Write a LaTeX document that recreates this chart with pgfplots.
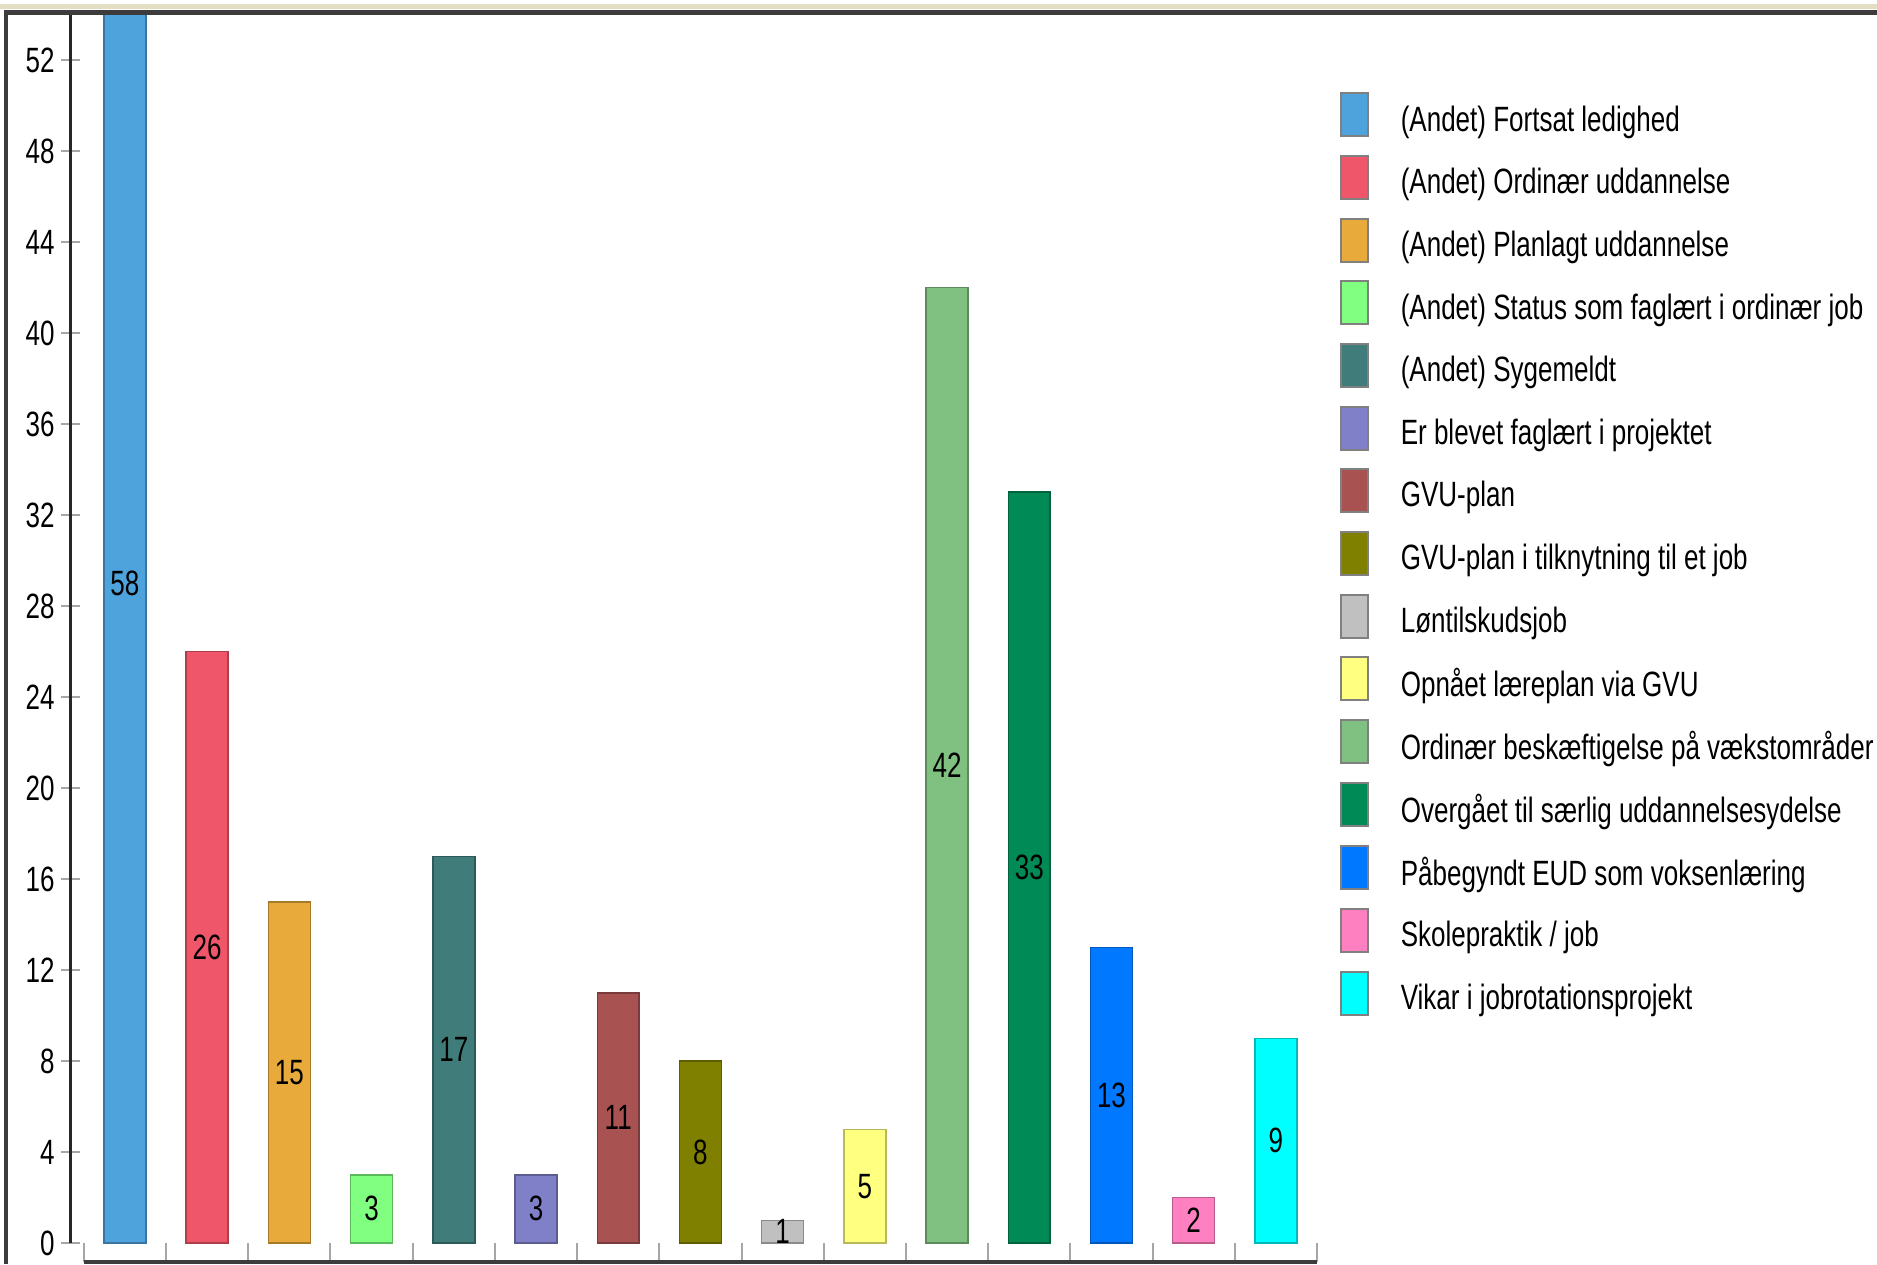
\documentclass[border=0pt]{standalone}
\usepackage{pgfplots}
\pgfplotsset{compat=1.18}
\usepackage{pgfplotstable}
\usepackage{fontspec}
\setmainfont{Liberation Sans}[FakeStretch=0.74]

\definecolor{c1}{RGB}{79,163,220}
\definecolor{c2}{RGB}{240,86,106}
\definecolor{c3}{RGB}{232,170,58}
\definecolor{c4}{RGB}{128,255,128}
\definecolor{c5}{RGB}{63,124,122}
\definecolor{c6}{RGB}{128,128,200}
\definecolor{c7}{RGB}{168,82,82}
\definecolor{c8}{RGB}{128,128,0}
\definecolor{c9}{RGB}{192,192,192}
\definecolor{c10}{RGB}{255,255,128}
\definecolor{c11}{RGB}{128,192,128}
\definecolor{c12}{RGB}{0,138,85}
\definecolor{c13}{RGB}{0,120,255}
\definecolor{c14}{RGB}{255,128,192}
\definecolor{c15}{RGB}{0,255,255}
\definecolor{framegray}{RGB}{60,60,60}
\definecolor{beige}{RGB}{225,222,195}

\pgfplotstableread{
x v
0 58
1 26
2 15
3 3
4 17
5 3
6 11
7 8
8 1
9 5
10 42
11 33
12 13
13 2
14 9
}\labeldata

\pgfplotsset{
  mybar/.style={ybar, bar width=0.51, bar shift=0pt, fill=#1, draw=#1!72!black, line width=0.015cm},
}

\begin{document}
\begin{tikzpicture}
\useasboundingbox (0,0) rectangle (18.77,12.64);
\fill[white] (0,0) rectangle (18.77,12.64);
\begin{axis}[
  at={(0.707cm,0.02cm)}, anchor=south west,
  scale only axis, width=12.463cm, height=12.475cm,
  xmin=-0.66, xmax=14.5, ymin=-0.835, ymax=54,
  axis line style={draw=none},
  clip mode=individual,
  tick pos=left,
  ytick={0,4,8,12,16,20,24,28,32,36,40,44,48,52},
  xtick={-0.5,0.5,1.5,2.5,3.5,4.5,5.5,6.5,7.5,8.5,9.5,10.5,11.5,12.5,13.5,14.5},
  xticklabels={},
  ytick align=center, xtick align=inside,
  major tick length=0.19cm,
  tick style={color=gray!70, line width=0.02cm},
  yticklabel style={font=\normalsize, inner sep=0pt, anchor=east, xshift=-0.06cm},
  /pgf/number format/assume math mode=true,
  legend cell align=left,
  legend style={at={(1.0185,0.9375)}, anchor=north west, draw=none, fill=none,
    inner sep=0pt, outer sep=0pt, row sep=0.1765cm, column sep=0pt,
    nodes={inner sep=0pt, outer sep=0pt}, font=\normalsize},
  legend image code/.code={\draw[#1, draw=gray, line width=0.02cm] (0cm,-0.155cm) rectangle (0.27cm,0.275cm); \path (0.59cm,0cm);},
]
\addplot[mybar=c1] coordinates {(0,58)}; \addlegendentry{(Andet) Fortsat ledighed}
\addplot[mybar=c2] coordinates {(1,26)}; \addlegendentry{(Andet) Ordinær uddannelse}
\addplot[mybar=c3] coordinates {(2,15)}; \addlegendentry{(Andet) Planlagt uddannelse}
\addplot[mybar=c4] coordinates {(3,3)}; \addlegendentry{(Andet) Status som faglært i ordinær job}
\addplot[mybar=c5] coordinates {(4,17)}; \addlegendentry{(Andet) Sygemeldt}
\addplot[mybar=c6] coordinates {(5,3)}; \addlegendentry{Er blevet faglært i projektet}
\addplot[mybar=c7] coordinates {(6,11)}; \addlegendentry{GVU-plan}
\addplot[mybar=c8] coordinates {(7,8)}; \addlegendentry{GVU-plan i tilknytning til et job}
\addplot[mybar=c9] coordinates {(8,1)}; \addlegendentry{Løntilskudsjob}
\addplot[mybar=c10] coordinates {(9,5)}; \addlegendentry{Opnået læreplan via GVU}
\addplot[mybar=c11] coordinates {(10,42)}; \addlegendentry{Ordinær beskæftigelse på vækstområder}
\addplot[mybar=c12] coordinates {(11,33)}; \addlegendentry{Overgået til særlig uddannelsesydelse}
\addplot[mybar=c13] coordinates {(12,13)}; \addlegendentry{Påbegyndt EUD som voksenlæring}
\addplot[mybar=c14] coordinates {(13,2)}; \addlegendentry{Skolepraktik / job}
\addplot[mybar=c15] coordinates {(14,9)}; \addlegendentry{Vikar i jobrotationsprojekt}
\addplot[draw=none, forget plot, nodes near coords, point meta=explicit symbolic,
  every node near coord/.append style={anchor=center, inner sep=0pt, font=\normalsize, text=black}]
  table[x=x, y expr=\thisrow{v}/2, meta=v] {\labeldata};
\draw[line width=0.045cm, color=framegray] (axis cs:-0.5,-0.835) -- (axis cs:14.5,-0.835);
\draw[line width=0.03cm, color=black!85] (axis cs:-0.66,0) -- (axis cs:-0.66,54.1);
\end{axis}
\fill[beige] (0,12.55) rectangle (18.77,12.60);
\draw[line width=0.045cm, color=framegray] (0.06,0) -- (0.06,12.515) -- (18.77,12.515);
\end{tikzpicture}
\end{document}
